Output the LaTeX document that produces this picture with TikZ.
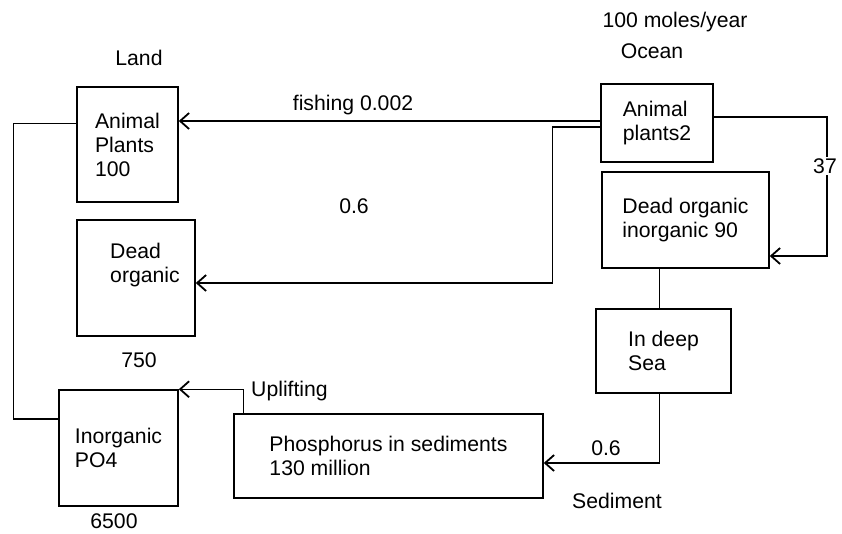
\documentclass[tikz,border=0pt]{standalone}
\usepackage{fontspec}
\setmainfont{Liberation Sans}
\usetikzlibrary{arrows.meta}

\begin{document}
\begin{tikzpicture}[x=1pt,y=-1pt]

\tikzset{
  Cycle Barb/.tip   ={Straight Barb[length=9pt, width=16pt, line width=1.8pt]},
  Cycle font/.style ={font=\fontsize{21.2}{24}\selectfont},
  Cycle box/.style  ={draw, line width=1.5pt, Cycle font, align=left, inner sep=0pt},
  Cycle flow/.style ={draw, line width=1.5pt, arrows=-Cycle Barb},
  Cycle line/.style ={draw, line width=1.2pt},
  Cycle label/.style={Cycle font, anchor=base, inner sep=0pt}
}
\useasboundingbox (0,0) rectangle (842,533);

% land side
\node[Cycle box, minimum width=101, minimum height=115] (landlife) at (127.5,144.5) {Animal\\Plants\\100};
\node[Cycle box, minimum width=118, minimum height=116,
      label={[Cycle font, align=left, xshift=9pt, yshift=13pt]center:{Dead\\organic}}] (landdead) at (136,278) {};
\node[Cycle box, minimum width=119, minimum height=116] (inorganic) at (118.5,448) {Inorganic\\PO4};
\node[Cycle box, minimum width=309, minimum height=84] (sediment) at (388.5,456) {Phosphorus in sediments\\130 million};

% ocean side
\node[Cycle box, minimum width=112, minimum height=78] (sealife) at (657,123) {Animal\\plants2};
\node[Cycle box, minimum width=167, minimum height=96] (seadead) at (685.5,220) {Dead organic\\inorganic 90};
\node[Cycle box, minimum width=135, minimum height=84] (deepsea) at (663.5,351) {In deep\\Sea};

% flows
\draw[Cycle flow] ([yshift=2pt]sealife.west) -- ([yshift=2pt]sealife.west -| landlife.east);
\draw[Cycle flow] ([yshift=-4pt]sealife.west) -- ++(-48,0) |- ([yshift=-5pt]landdead.east);
\draw[Cycle flow] ([yshift=6pt]sealife.east) -- ++(113,0) |- ([yshift=-36pt]seadead.east);
\draw[Cycle line] ([xshift=-4pt]deepsea.north) -- ([xshift=-4pt]deepsea.north |- seadead.south);
\draw[Cycle flow] ([xshift=-4pt]deepsea.south) |- ([yshift=-7pt]sediment.east);
\draw[Cycle flow] ([xshift=10pt]sediment.north west) |- (inorganic.north east);
\draw[Cycle line] ([yshift=21pt]landlife.west) -- ++(-63,0) |- ([yshift=29pt]inorganic.west);

% labels
\node[Cycle label] (land) at (139,65) {Land};
\node[Cycle label] (rate) at (675,27) {100 moles/year};
\node[Cycle label] (ocean) at (652,58) {Ocean};
\node[Cycle label] (fishing) at (353,110) {fishing 0.002};
\node[Cycle label] (deadflow) at (354,213) {0.6};
\node[Cycle label] (landdeadsum) at (139,367) {750};
\node[Cycle label] (inorganicsum) at (114,528) {6500};
\node[Cycle label, anchor=base west] (uplift) at (251,396) {Uplifting};
\node[Cycle label] (sinkflow) at (606,455) {0.6};
\node[Cycle label] (sedlabel) at (617,508) {Sediment};
\node[Cycle font, fill=white, inner sep=1pt] (decay) at (825,166) {37};
\end{tikzpicture}
\end{document}
